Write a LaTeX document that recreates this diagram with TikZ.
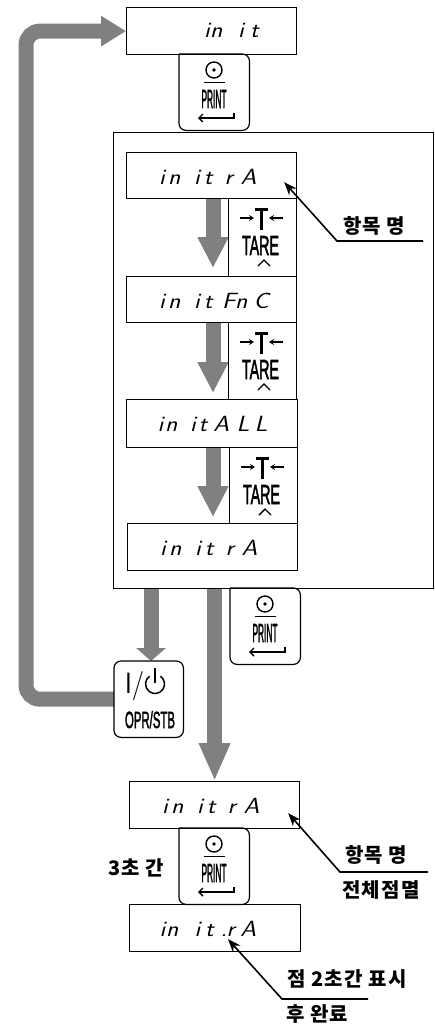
\documentclass[tikz,border=0pt]{standalone}
\usepackage{fontspec}
\usepackage{graphicx}
\usetikzlibrary{arrows.meta,calc}
\newfontfamily\krf{Noto Sans CJK KR}[LetterSpace=6]
\newfontfamily\keyf{Liberation Sans}[FakeBold=2.5]
\newcommand\segc[2]{\makebox[#1pt][l]{\scalebox{1.15}[1]{#2}}}
\newcommand\segfont{\fontsize{22}{22}\selectfont\sffamily\slshape}
\newcommand\keyfont{\keyf}
\definecolor{arrowgray}{RGB}{128,128,128}

\tikzset{
  box/.style={draw, line width=1.2pt, inner sep=0pt, anchor=north west},
  keynode/.style={inner sep=0pt, anchor=north west},
  keyline/.style={draw, line width=1.2pt},
  icon/.style={line width=1.4pt},
  keytext/.style={anchor=base, inner sep=0pt},
  dtext/.style={anchor=base west, inner sep=0pt, font=\segfont},
  garrow/.style={draw=arrowgray, line width=15pt, -{Triangle[length=31pt,width=29pt]}},
  callout/.style={draw, line width=1.6pt, -{Stealth[length=13pt,width=10pt]}},
  lbl/.style={anchor=west, inner sep=0pt, font=\krf\bfseries\fontsize{20}{20}\selectfont},
}

\newcommand\printkey[3]{%
  \node[keynode, minimum width=70pt, minimum height=76pt] (#1) at (#2,#3) {};
  \draw[keyline, rounded corners=7pt] (#1.north west) -- (#1.north east) -- (#1.south east) -- (#1.south west) -- (#1.north west);
  \draw[icon] ($(#1.north west)+(35,16)$) circle (8pt);
  \fill ($(#1.north west)+(35,16)$) circle (1.8pt);
  \draw[icon] ($(#1.north west)+(25,28.5)$) -- ($(#1.north west)+(46,28.5)$);
  \node[keytext] (#1t) at ($(#1.north west)+(35,54)$) {\resizebox{25pt}{18pt}{\keyfont PRINT}};
  \draw[icon, -{Straight Barb[length=4pt,width=8pt]}] ($(#1.north west)+(55,59)$) -- ($(#1.north west)+(55,64)$) -- ($(#1.north west)+(19,64)$);
}
\newcommand\tarekey[4]{%
  \node[keynode, draw, line width=1.2pt, minimum width=68pt, minimum height=#4pt] (#1) at (#2,#3) {};
  \draw[icon, -{Stealth[length=5pt,width=6pt]}] ($(#1.north west)+(12,20)$) -- ($(#1.north west)+(26,20)$);
  \draw[icon, -{Stealth[length=5pt,width=6pt]}] ($(#1.north west)+(55,20)$) -- ($(#1.north west)+(41,20)$);
  \draw[line width=3pt] ($(#1.north west)+(27,11)$) -- ($(#1.north west)+(40,11)$);
  \draw[line width=3.4pt] ($(#1.north west)+(33.5,11)$) -- ($(#1.north west)+(33.5,32)$);
  \node[keytext] (#1t) at ($(#1.north west)+(32.5,57)$) {\resizebox{37pt}{19pt}{\keyfont TARE}};
  \draw[icon] ($(#1.north west)+(30,68)$) -- ($(#1.north west)+(36,62)$) -- ($(#1.north west)+(42,68)$);
}

\begin{document}
\begin{tikzpicture}[x=1pt,y=-1pt]
\useasboundingbox (0,0) rectangle (434,1026);

% frame and displays
\node[box, minimum width=320pt, minimum height=456pt] (frame) at (113,132) {};
\node[box, minimum width=170pt, minimum height=47pt] (d0) at (126,7) {};
\node[box, minimum width=170pt, minimum height=46pt] (dA) at (126,152) {};
\node[box, minimum width=170pt, minimum height=46pt] (dB) at (126,276) {};
\node[box, minimum width=171pt, minimum height=48pt] (dC) at (126,399) {};
\node[box, minimum width=170pt, minimum height=47pt] (dD) at (127,523) {};
\node[box, minimum width=170pt, minimum height=47pt] (dE) at (129,781) {};
\node[box, minimum width=171pt, minimum height=47pt] (dF) at (129,904) {};
\node[keynode, minimum width=69pt, minimum height=76pt] (opr) at (114,661) {};

\coordinate (lx) at (26,0);
\coordinate (ax) at (213,0);
\coordinate (bx) at (151,0);

% gray arrows
\draw[garrow, rounded corners=14pt, -{Triangle[length=25pt,width=29pt]}]
  (opr.west) -- (opr.west -| lx) -- (d0.west -| lx) -- (d0.west);
\draw[garrow, shorten >=8pt] (dA.south -| ax) -- (dB.north -| ax);
\draw[garrow, shorten >=6pt] (dB.south -| ax) -- (dC.north -| ax);
\draw[garrow, shorten >=6pt] (dC.south -| ax) -- (dD.north -| ax);
\draw[garrow, -{Triangle[length=13pt,width=29pt]}] (frame.south -| bx) -- (opr.north -| bx);
\draw[garrow, -{Triangle[length=38pt,width=29pt]}] (frame.south -| dE.north) -- (dE.north);

% display texts
\node[dtext] (d0t) at ($(d0.north west)+(78,30)$) {\segc{6}{i}\segc{28}{n}\segc{12}{i}\segc{0}{t}};
\node[dtext] (dAt) at ($(dA.north west)+(33,32)$) {\segc{9}{i}\segc{26}{n}\segc{9.6}{i}\segc{20.8}{t}\segc{15.9}{r}\segc{0}{A}};
\node[dtext] (dBt) at ($(dB.north west)+(33,32)$) {\segc{9}{i}\segc{26}{n}\segc{9.6}{i}\segc{18.2}{t}\segc{13.2}{F}\segc{18.5}{n}\segc{0}{C}};
\node[dtext] (dCt) at ($(dC.north west)+(31.4,32)$) {\segc{7.5}{i}\segc{25}{n}\segc{8.6}{i}\segc{14.7}{t}\segc{23.1}{A}\segc{18}{L}\segc{0}{L}};
\node[dtext] (dDt) at ($(dD.north west)+(33,32)$) {\segc{9}{i}\segc{26}{n}\segc{9.6}{i}\segc{20.8}{t}\segc{15.9}{r}\segc{0}{A}};
\node[dtext] (dEt) at ($(dE.north west)+(33,32)$) {\segc{9}{i}\segc{26}{n}\segc{9.6}{i}\segc{20.8}{t}\segc{15.9}{r}\segc{0}{A}};
\node[dtext] (dFt) at ($(dF.north west)+(30.4,32)$) {\segc{6.5}{i}\segc{28.5}{n}\segc{10.6}{i}\segc{15.5}{t}\segc{5.8}{.}\segc{13.9}{r}\segc{0}{A}};

% keys
\printkey{p1}{179}{54}
\printkey{p2}{230}{588}
\printkey{p3}{179}{828}
\tarekey{t1}{228}{198}{78}
\tarekey{t2}{228}{322}{77}
\tarekey{t3}{229}{447}{76}

\draw[keyline, rounded corners=7pt] (opr.north west) rectangle (opr.south east);
\node[keytext] (oprI) at ($(opr.north west)+(20.5,32)$) {\resizebox{19pt}{22pt}{\sffamily I/}};
\draw[icon, line width=1.5pt] ($(opr.north west)+(41,23)$) ++(55:9.5pt) arc[start angle=55, end angle=-235, radius=9.5pt];
\draw[icon, line width=1.5pt] ($(opr.north west)+(41,7)$) -- ($(opr.north west)+(41,22)$);
\node[keytext] (oprS) at ($(opr.north west)+(36,67)$) {\resizebox{50pt}{17pt}{\keyfont OPR/STB}};

% callouts
\coordinate (c1tip) at ($(dA.south east)+(-13,-17)$);
\coordinate (c1elb) at (337,241);
\coordinate (c1end) at (423,241);
\coordinate (c2tip) at ($(dE.south east)+(-12,-16)$);
\coordinate (c2elb) at (340,872);
\coordinate (c2end) at (428,872);
\coordinate (c3tip) at ($(dF.south west)+(99,-13)$);
\coordinate (c3elb) at (282,999);
\coordinate (c3end) at (368,999);
\draw[callout] (c1end) -- (c1elb) -- (c1tip);
\draw[callout] (c2end) -- (c2elb) -- (c2tip);
\draw[callout] (c3end) -- (c3elb) -- (c3tip);

% labels
\node[lbl] (l1) at (343,226) {항목 명};
\node[lbl] (l2) at (345,855) {항목 명};
\node[lbl] (l3) at (342,890) {전체점멸};
\node[lbl] (l4) at (108,868) {3초 간};
\node[lbl] (l5) at (287,979) {점 2초간 표시};
\node[lbl] (l6) at (286,1014) {후 완료};
\end{tikzpicture}
\end{document}
